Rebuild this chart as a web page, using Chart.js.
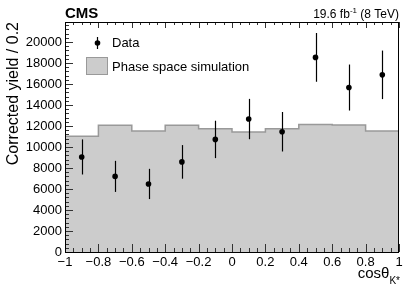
<!DOCTYPE html>
<html>
<head>
<meta charset="utf-8">
<script src="https://cdn.jsdelivr.net/npm/chart.js@4.4.0/dist/chart.umd.min.js"></script>
<style>
  html, body { margin: 0; padding: 0; background: #fff; }
  #wrap { width: 407px; height: 293px; }
</style>
</head>
<body>
<div id="wrap"><canvas id="grafica"></canvas></div>
<script>
// bordes de los bins y simulacion de espacio de fases
const bordesBins = [-1, -0.8, -0.6, -0.4, -0.2, 0, 0.2, 0.4, 0.6, 0.8, 1];
const simulacion = [11030, 12060, 11530, 12060, 11740, 11420, 11740, 12150, 12090, 11510];

// puntos de datos (centro del bin, valor, error)
const datosX = [-0.9, -0.7, -0.5, -0.3, -0.1, 0.1, 0.3, 0.5, 0.7, 0.9];
const datosY = [9050, 7200, 6480, 8580, 10720, 12660, 11450, 18530, 15660, 16870];
const datosErr = [1670, 1480, 1440, 1600, 1780, 1920, 1880, 2320, 2190, 2310];

const ticksY = [0, 2000, 4000, 6000, 8000, 10000, 12000, 14000, 16000, 18000, 20000];
const ticksX = [-1, -0.8, -0.6, -0.4, -0.2, 0, 0.2, 0.4, 0.6, 0.8, 1];

const fuente = "'Liberation Sans', Arial, Helvetica, sans-serif";
Chart.defaults.font.family = fuente;
Chart.defaults.color = "#000";

// el ultimo punto repite el ultimo bin para cerrar el escalon
const puntosHist = bordesBins.map((x, i) => ({ x: x, y: simulacion[Math.min(i, simulacion.length - 1)] }));
const puntosDatos = datosX.map((x, i) => ({ x: x, y: datosY[i] }));

const menos = (v) => String(v).replace("-", "\u2212");

// barras de error, marco y ticks hacia adentro
const pluginMarco = {
  id: "marco",
  afterDatasetsDraw(chart) {
    const ctx = chart.ctx;
    const xs = chart.scales.x;
    const ys = chart.scales.y;
    ctx.save();
    ctx.strokeStyle = "#000";
    ctx.lineWidth = 1.2;
    datosX.forEach((x, i) => {
      const px = Math.round(xs.getPixelForValue(x)) + 0.5;
      ctx.beginPath();
      ctx.moveTo(px, ys.getPixelForValue(datosY[i] + datosErr[i]));
      ctx.lineTo(px, ys.getPixelForValue(datosY[i] - datosErr[i]));
      ctx.stroke();
    });
    ctx.restore();
  },
  afterDraw(chart) {
    const ctx = chart.ctx;
    const a = chart.chartArea;
    const xs = chart.scales.x;
    const ys = chart.scales.y;
    ctx.save();
    ctx.strokeStyle = "#333";
    ctx.lineWidth = 1;
    // ticks eje y
    for (let v = 0; v <= 21900; v += 400) {
      const py = Math.round(ys.getPixelForValue(v)) + 0.5;
      const largo = v % 2000 === 0 ? 8 : 4;
      ctx.beginPath();
      ctx.moveTo(a.left, py);
      ctx.lineTo(a.left + largo, py);
      ctx.stroke();
    }
    // ticks eje x
    for (let k = 0; k <= 40; k++) {
      const v = -1 + k * 0.05;
      const px = Math.round(xs.getPixelForValue(v)) + 0.5;
      const largo = k % 4 === 0 ? 8 : 4;
      ctx.beginPath();
      ctx.moveTo(px, a.bottom);
      ctx.lineTo(px, a.bottom - largo);
      ctx.stroke();
      ctx.beginPath();
      ctx.moveTo(px, a.top);
      ctx.lineTo(px, a.top + (k % 4 === 0 ? 6 : 3));
      ctx.stroke();
    }
    // marco
    ctx.strokeStyle = "#000";
    ctx.strokeRect(a.left + 0.5, a.top + 0.5, a.right - a.left - 1, a.bottom - a.top);

    // textos
    ctx.fillStyle = "#000";
    ctx.textBaseline = "alphabetic";
    ctx.textAlign = "left";
    ctx.font = "bold 15px " + fuente;
    ctx.fillText("CMS", 65, 18);

    // luminosidad alineada a la derecha
    ctx.font = "12px " + fuente;
    const t1 = "19.6 fb";
    const t3 = " (8 TeV)";
    const w1 = ctx.measureText(t1).width;
    const w3 = ctx.measureText(t3).width;
    ctx.font = "8px " + fuente;
    const w2 = ctx.measureText("-1").width;
    let x0 = 399 - (w1 + w2 + w3);
    ctx.font = "12px " + fuente;
    ctx.fillText(t1, x0, 18);
    ctx.font = "8px " + fuente;
    ctx.fillText("-1", x0 + w1, 13);
    ctx.font = "12px " + fuente;
    ctx.fillText(t3, x0 + w1 + w2, 18);

    // leyenda
    ctx.strokeStyle = "#000";
    ctx.lineWidth = 1.2;
    ctx.beginPath();
    ctx.moveTo(97.5, 37);
    ctx.lineTo(97.5, 49);
    ctx.stroke();
    ctx.beginPath();
    ctx.arc(97.5, 43, 2.8, 0, Math.PI * 2);
    ctx.fill();
    ctx.fillStyle = "#cccccc";
    ctx.fillRect(86, 57, 21, 17);
    ctx.strokeStyle = "#999";
    ctx.lineWidth = 1;
    ctx.strokeRect(86.5, 57.5, 21, 17);
    ctx.fillStyle = "#000";
    ctx.font = "13px " + fuente;
    ctx.textBaseline = "middle";
    ctx.fillText("Data", 112, 43);
    ctx.fillText("Phase space simulation", 112, 67);

    // titulo eje x con subindice
    ctx.textBaseline = "alphabetic";
    ctx.font = "15px " + fuente;
    const wc = ctx.measureText("cos\u03b8").width;
    ctx.font = "10px " + fuente;
    const wk = ctx.measureText("K*").width;
    const xt = 400 - wc - wk;
    ctx.font = "15px " + fuente;
    ctx.fillText("cos\u03b8", xt, 278);
    ctx.font = "10px " + fuente;
    ctx.fillText("K*", xt + wc, 284);
    ctx.restore();
  }
};

const config = {
  type: "line",
  data: {
    datasets: [
      {
        label: "Data",
        type: "scatter",
        data: puntosDatos,
        pointRadius: 2.8,
        pointBackgroundColor: "#000",
        pointBorderWidth: 0,
        showLine: false,
        order: 1
      },
      {
        label: "Phase space simulation",
        data: puntosHist,
        stepped: "before",
        borderColor: "#999",
        borderWidth: 1.5,
        backgroundColor: "#cccccc",
        fill: "origin",
        pointRadius: 0,
        order: 2
      }
    ]
  },
  options: {
    responsive: true,
    maintainAspectRatio: false,
    animation: false,
    events: [],
    layout: { padding: { left: 0, right: 8, top: 22, bottom: 0 } },
    plugins: { legend: { display: false }, tooltip: { enabled: false } },
    scales: {
      x: {
        type: "linear",
        min: -1,
        max: 1,
        grid: { display: false, drawTicks: false },
        border: { display: false },
        ticks: {
          stepSize: 0.2,
          padding: 3,
          font: { size: 13 },
          maxRotation: 0,
          autoSkip: false,
          callback: (v) => menos(Math.round(v * 10) / 10)
        },
        afterBuildTicks: (s) => { s.ticks = ticksX.map((v) => ({ value: v })); },
        afterFit: (s) => { s.height = 41; }
      },
      y: {
        type: "linear",
        min: 0,
        max: 21900,
        grid: { display: false, drawTicks: false },
        border: { display: false },
        ticks: {
          padding: 3,
          font: { size: 13 },
          callback: (v) => String(v)
        },
        afterBuildTicks: (s) => { s.ticks = ticksY.map((v) => ({ value: v })); },
        afterFit: (s) => { s.width = 65; },
        title: {
          display: true,
          text: "Corrected yield / 0.2",
          align: "end",
          font: { size: 16 },
          padding: { top: 4, bottom: 0 }
        }
      }
    }
  },
  plugins: [pluginMarco]
};

new Chart(document.getElementById("grafica"), config);
</script>
</body>
</html>
